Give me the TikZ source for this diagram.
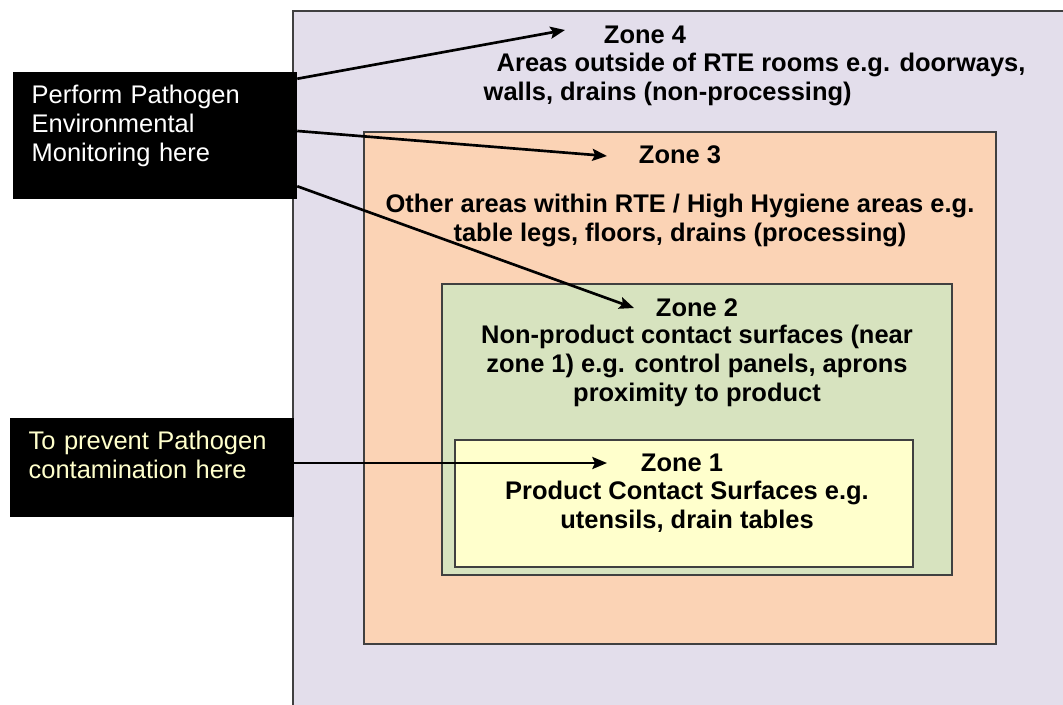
\documentclass[tikz,border=0pt]{standalone}
\usepackage{fontspec}
\setmainfont{Liberation Sans}
\usetikzlibrary{positioning, arrows.meta}
\definecolor{zonefour}{HTML}{E3DEEB}
\definecolor{zonethree}{HTML}{FBD3B5}
\definecolor{zonetwo}{HTML}{D7E3BF}
\definecolor{zoneone}{HTML}{FFFFCC}
\definecolor{zoneline}{HTML}{404040}
\definecolor{notecream}{HTML}{FFFFCC}

\begin{document}
\begin{tikzpicture}[x=0.75pt, y=-0.75pt,
        zonebox/.style={draw=zoneline, line width=1pt},
        zonetitle/.style={font=\fontsize{19.1}{21.75}\selectfont\bfseries},
        zonetext/.style={font=\fontsize{19.1}{21.75}\selectfont\bfseries, align=center},
        note/.style={fill=black, anchor=center, align=left, text width=185pt, inner xsep=14pt,
            minimum width=213pt, font=\fontsize{19.1}{21.75}\selectfont},
        pointer/.style={line width=2pt, -{Stealth[length=11pt, width=9pt, inset=2pt]}}
    ]
      \useasboundingbox (0,0) rectangle (1063,704);
      % Nested zones
      \draw[zonebox, fill=zonefour] (293,11) rectangle (1075,715);
      \draw[zonebox, fill=zonethree] (364,132) rectangle (996,644);
      \draw[zonebox, fill=zonetwo] (442,284) rectangle (952,575);
      \draw[zonebox, fill=zoneone] (455,440) rectangle (913,567);
      % Zone 4
      \node[zonetitle] (title4) at (645,35) {Zone 4};
      \node[zonetext, align=left, anchor=west] (text4) at (479,79)
           {\hspace{9.75pt}Areas outside of RTE rooms e.g. doorways,\\walls, drains (non-processing)};
      % Zone 3
      \node[zonetitle] (title3) at (680,155) {Zone 3};
      \node[zonetext] (text3) at (680,220)
           {Other areas within RTE / High Hygiene areas e.g.\\table legs, floors, drains (processing)};
      % Zone 2
      \node[zonetitle] (title2) at (697,308) {Zone 2};
      \node[zonetext] (text2) at (697,366)
           {Non-product contact surfaces (near\\zone 1) e.g. control panels, aprons\\proximity to product};
      % Zone 1
      \node[zonetitle] (title1) at (682,463) {Zone 1};
      \node[zonetext] (text1) at (687,507)
           {Product Contact Surfaces e.g.\\utensils, drain tables};
      % Notes
      \node[note, text=white, minimum height=95.25pt] (monitor) at (155,135.5)
           {Perform Pathogen\\Environmental\\Monitoring here\\[-3pt]\mbox{}};
      \node[note, text=notecream, minimum height=74.25pt] (prevent) at (152,467.5)
           {To prevent Pathogen\\contamination here\\[-3pt]\mbox{}};
      % Arrow tips
      \coordinate (tip4) at (565,30);
      \coordinate (tip3) at (607,156);
      \coordinate (tip2) at (634,308);
      \coordinate (tip1) at (607,463);
      \draw[pointer] ([yshift=-5.25pt]monitor.north east) -- (tip4);
      \draw[pointer] ([yshift=3.4pt]monitor.east) -- (tip3);
      \draw[pointer] ([yshift=9.75pt]monitor.south east) -- (tip2);
      \draw[pointer] (prevent.east |- tip1) -- (tip1);
    \end{tikzpicture}
\end{document}
